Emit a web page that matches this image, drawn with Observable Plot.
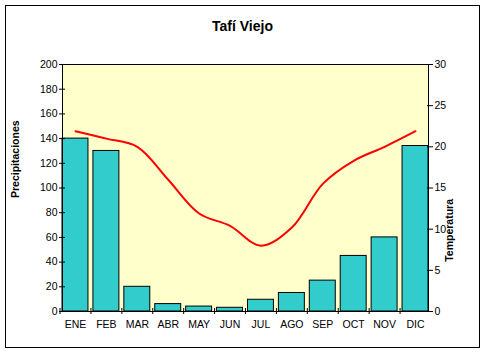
<!DOCTYPE html>
<html><head><meta charset="utf-8">
<script src="https://cdn.jsdelivr.net/npm/d3@7"></script>
<script src="https://cdn.jsdelivr.net/npm/@observablehq/plot@0.6"></script>
<style>
body{margin:0;background:#fff;font-family:"Liberation Sans",Arial,sans-serif;}
#wrap{position:relative;width:485px;height:352px;overflow:hidden}
#border{position:absolute;left:5px;top:5px;width:475px;height:343px;border:1px solid #000;box-sizing:border-box}
#title{position:absolute;left:0;width:485px;top:18px;text-align:center;font-weight:bold;font-size:14px;color:#000}
#wrap svg{position:absolute;left:0;top:0}
</style></head><body>
<div id="wrap"><div id="border"></div><div id="title">Tafí Viejo</div></div>
<script>
const months = ["ENE","FEB","MAR","ABR","MAY","JUN","JUL","AGO","SEP","OCT","NOV","DIC"];
const precipitation = [140,130,20,6,4,3,9.5,15,25,45,60,134];
const temperature = [21.9,21.0,20.0,16.0,11.9,10.4,8.0,10.2,15.5,18.3,20.0,21.9];
const precipTicks = [0,20,40,60,80,100,120,140,160,180,200];
const tempTicks = [0,5,10,15,20,25,30];
const precipMax = 200, tempMax = 30;

const data = months.map((m,i)=>({month:m, precip:precipitation[i], temp:temperature[i], tempScaled:temperature[i]*precipMax/tempMax}));

const W = 485, H = 352, mL = 62, mR = 57, mT = 64, mB = 41;
const padIn = 0.16;
const step = (W - mL - mR) / (months.length - padIn);
const font = "Liberation Sans, Arial, sans-serif";

const plot = Plot.plot({
  width: W, height: H,
  marginLeft: mL, marginRight: mR, marginTop: mT, marginBottom: mB,
  style: {fontFamily: font, fontSize: "10.5px", color: "#000", background: "transparent", overflow: "visible"},
  x: {type: "band", domain: months, paddingInner: padIn, paddingOuter: 0, round: false, label: null},
  y: {domain: [0, precipMax], label: null},
  marks: [
    Plot.frame({fill: "#FFFFCC", stroke: null}),
    Plot.barY(data, {x: "month", y: "precip", fill: "#33CCCC", stroke: "#000", strokeWidth: 1}),
    Plot.lineY(data, {x: "month", y: "tempScaled", stroke: "#FF0000", strokeWidth: 2, curve: "catmull-rom"}),
    Plot.frame({stroke: "#000", strokeWidth: 1}),
    // left axis
    Plot.axisY({ticks: precipTicks, tickSize: 0, tickPadding: 5, label: null}),
    Plot.axisY({ticks: precipTicks, tickSize: 6, dx: 3, tickFormat: () => "", label: null}),
    // right axis (temperature mapped onto precipitation scale)
    Plot.axisY({anchor: "right", ticks: tempTicks.map(t => t*precipMax/tempMax), tickFormat: d => String(Math.round(d*tempMax/precipMax)), tickSize: 0, tickPadding: 6, label: null}),
    Plot.axisY({anchor: "right", ticks: tempTicks.map(t => t*precipMax/tempMax), tickSize: 6, dx: -2, tickFormat: () => "", label: null}),
    // bottom axis
    Plot.axisX({tickSize: 0, tickPadding: 9, label: null}),
    Plot.axisX({tickSize: 6, dx: -step/2, dy: -3, tickFormat: () => "", label: null}),
    // axis titles
    Plot.text(["Precipitaciones"], {frameAnchor: "left", text: d => d, rotate: -90, dx: -47, dy: 10, fontWeight: "bold", fontSize: 10.5, fill: "#000"}),
    Plot.text(["Temperatura"], {frameAnchor: "right", text: d => d, rotate: -90, dx: 21, dy: 11, fontWeight: "bold", fontSize: 10.5, fill: "#000"})
  ]
});
document.getElementById("wrap").appendChild(plot);
</script>
</body></html>
